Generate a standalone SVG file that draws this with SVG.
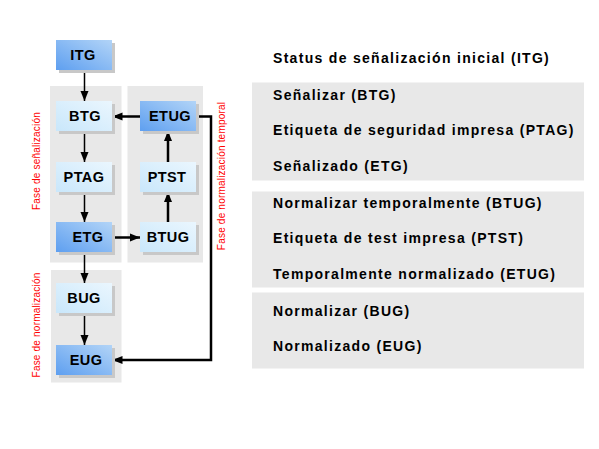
<svg xmlns="http://www.w3.org/2000/svg" width="599" height="449" viewBox="0 0 599 449">
  <defs>
    <linearGradient id="gDark" x1="0" y1="1" x2="1" y2="0">
      <stop offset="0" stop-color="#5e9ff0"/>
      <stop offset="1" stop-color="#b2d4f7"/>
    </linearGradient>
    <linearGradient id="gLight" x1="0" y1="1" x2="1" y2="0">
      <stop offset="0" stop-color="#c9e7fb"/>
      <stop offset="1" stop-color="#eaf6fe"/>
    </linearGradient>
    <marker id="arr" markerUnits="userSpaceOnUse" markerWidth="10" markerHeight="10" viewBox="0 0 10 10" refX="10" refY="5" orient="auto">
      <path d="M0,1 L10,5 L0,9 Z" fill="#000"/>
    </marker>
    <style>
      .panel { fill: #e8e8e8; }
      .shadow { fill: #c8c8c8; }
      .dark { fill: url(#gDark); }
      .light { fill: url(#gLight); }
      .lbl { font-family: "Liberation Sans", Arial, sans-serif; font-weight: bold; font-size: 14.5px; fill: #000; text-anchor: middle; letter-spacing: 0.4px; }
      .desc { font-family: "Liberation Sans", Arial, sans-serif; font-weight: bold; font-size: 14px; fill: #000; letter-spacing: 1.3px; }
      .phase { font-family: "Liberation Sans", Arial, sans-serif; font-size: 10px; fill: #ff0000; text-anchor: middle; letter-spacing: 0.2px; }
      .ln { stroke: #000; fill: none; }
    </style>
  </defs>

  <rect width="599" height="449" fill="#ffffff"/>

  <g id="panels">
    <rect class="panel" x="50" y="86" width="71.5" height="176.5"/>
    <rect class="panel" x="127.5" y="86" width="75.5" height="176.5"/>
    <rect class="panel" x="51" y="270" width="70.5" height="112.5"/>
    <rect class="panel" x="252" y="82.5" width="332" height="98"/>
    <rect class="panel" x="252" y="191.5" width="332" height="96"/>
    <rect class="panel" x="252" y="292.5" width="332" height="76"/>
  </g>

  <g id="phases">
    <text class="phase" transform="translate(39.5,161) rotate(-90)">Fase de señalización</text>
    <text class="phase" transform="translate(225,176) rotate(-90)">Fase de normalización temporal</text>
    <text class="phase" transform="translate(39.5,325) rotate(-90)">Fase de normalización</text>
  </g>

  <g id="connectors">
    <line class="ln" x1="84.5" y1="70" x2="84.5" y2="101" stroke-width="1.5" marker-end="url(#arr)"/>
    <line class="ln" x1="84.5" y1="131" x2="84.5" y2="162" stroke-width="1.5" marker-end="url(#arr)"/>
    <line class="ln" x1="84.5" y1="192" x2="84.5" y2="222" stroke-width="1.5" marker-end="url(#arr)"/>
    <line class="ln" x1="84.5" y1="252" x2="84.5" y2="283" stroke-width="1.5" marker-end="url(#arr)"/>
    <line class="ln" x1="84.5" y1="313" x2="84.5" y2="345" stroke-width="1.5" marker-end="url(#arr)"/>
    <line class="ln" x1="112" y1="237.5" x2="140" y2="237.5" stroke-width="2.5" marker-end="url(#arr)"/>
    <line class="ln" x1="168" y1="222" x2="168" y2="192" stroke-width="2.5" marker-end="url(#arr)"/>
    <line class="ln" x1="168" y1="162" x2="168" y2="131" stroke-width="2.5" marker-end="url(#arr)"/>
    <line class="ln" x1="140" y1="116.5" x2="112.5" y2="116.5" stroke-width="2.5" marker-end="url(#arr)"/>
    <polyline class="ln" points="196,116.5 211,116.5 211,360 112.5,360" stroke-width="2.5" marker-end="url(#arr)"/>
  </g>

  <g id="node-ITG">
    <rect class="shadow" x="59" y="43" width="56" height="30"/>
    <rect class="dark" x="56" y="40" width="56" height="30"/>
    <text class="lbl" x="83" y="60">ITG</text>
  </g>
  <g id="node-BTG">
    <rect class="shadow" x="59" y="104" width="56" height="30"/>
    <rect class="light" x="56" y="101" width="56" height="30"/>
    <text class="lbl" x="85" y="121">BTG</text>
  </g>
  <g id="node-PTAG">
    <rect class="shadow" x="59" y="165" width="56" height="30"/>
    <rect class="light" x="56" y="162" width="56" height="30"/>
    <text class="lbl" x="84" y="182">PTAG</text>
  </g>
  <g id="node-ETG">
    <rect class="shadow" x="59" y="225" width="56" height="30"/>
    <rect class="dark" x="56" y="222" width="56" height="30"/>
    <text class="lbl" x="88" y="242">ETG</text>
  </g>
  <g id="node-BUG">
    <rect class="shadow" x="59" y="286" width="56" height="30"/>
    <rect class="light" x="56" y="283" width="56" height="30"/>
    <text class="lbl" x="84" y="303">BUG</text>
  </g>
  <g id="node-EUG">
    <rect class="shadow" x="59" y="348" width="56" height="30"/>
    <rect class="dark" x="56" y="345" width="56" height="30"/>
    <text class="lbl" x="86" y="365">EUG</text>
  </g>
  <g id="node-ETUG">
    <rect class="shadow" x="143" y="104" width="56" height="30"/>
    <rect class="dark" x="140" y="101" width="56" height="30"/>
    <text class="lbl" x="170" y="121">ETUG</text>
  </g>
  <g id="node-PTST">
    <rect class="shadow" x="143" y="165" width="56" height="30"/>
    <rect class="light" x="140" y="162" width="56" height="30"/>
    <text class="lbl" x="167" y="182">PTST</text>
  </g>
  <g id="node-BTUG">
    <rect class="shadow" x="143" y="225" width="56" height="30"/>
    <rect class="light" x="140" y="222" width="56" height="30"/>
    <text class="lbl" x="168" y="242">BTUG</text>
  </g>

  <g id="legend">
    <text class="desc" x="273" y="63">Status de señalización inicial (ITG)</text>
    <text class="desc" x="273" y="99.5">Señalizar (BTG)</text>
    <text class="desc" x="273" y="135">Etiqueta de seguridad impresa (PTAG)</text>
    <text class="desc" x="273" y="170.5">Señalizado (ETG)</text>
    <text class="desc" x="273" y="207.5">Normalizar temporalmente (BTUG)</text>
    <text class="desc" x="273" y="243">Etiqueta de test impresa (PTST)</text>
    <text class="desc" x="273" y="278.5">Temporalmente normalizado (ETUG)</text>
    <text class="desc" x="273" y="315.5">Normalizar (BUG)</text>
    <text class="desc" x="273" y="351">Normalizado (EUG)</text>
  </g>
</svg>
